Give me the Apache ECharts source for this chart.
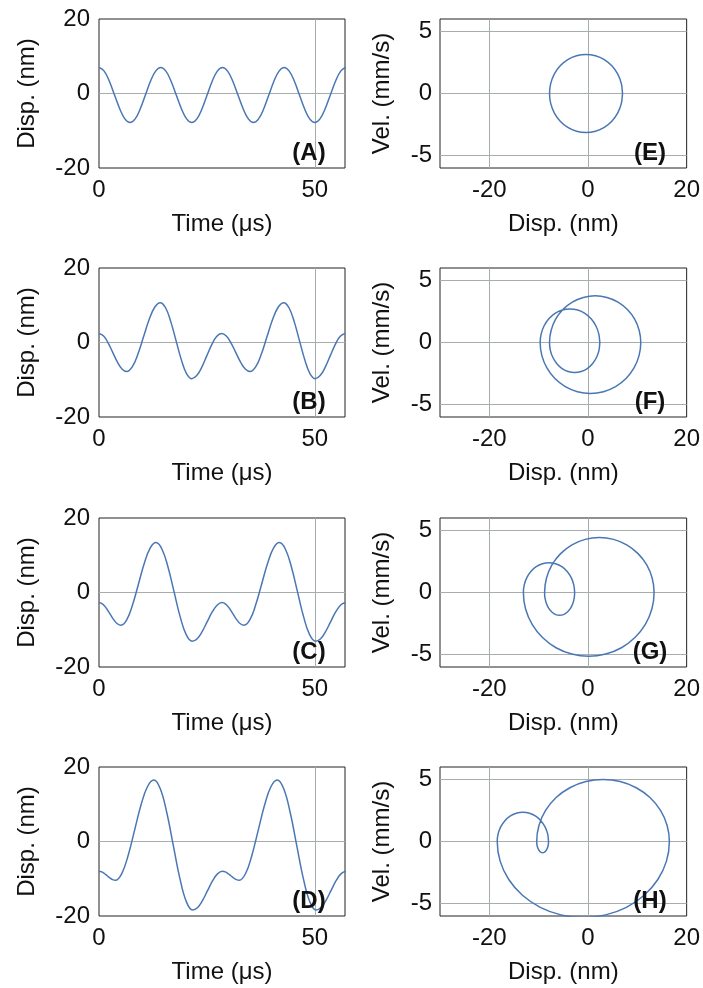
<!DOCTYPE html>
<html><head><meta charset="utf-8">
<script src="https://cdn.jsdelivr.net/npm/echarts@6/dist/echarts.min.js"></script>
<style>html,body{margin:0;padding:0;background:#fff}#c{width:703px;height:988px}</style>
</head><body><div id="c"></div>
<script>
// ---- Data ----
const timeTicks = [0, 50];
const dispTicks = [-20, 0, 20];
const phaseXTicks = [-20, 0, 20];
const phaseYTicks = [-5, 0, 5];
const timeLabels = ['(A)', '(B)', '(C)', '(D)'];
const phaseLabels = ['(E)', '(F)', '(G)', '(H)'];

// time traces (left column): time in µs, displacement in nm
const timeA = [0,1.2,2.4,3.6,4.8,6, 7.2,8.38,9.57,10.75,11.93,13.12, 14.3,15.5,16.7,17.9,19.1,20.3, 21.5,22.68,23.87,25.05,26.23,27.42, 28.6,29.8,31,32.2,33.4,34.6, 35.8,36.98,38.17,39.35,40.53,41.72, 42.9,44.08,45.27,46.45,47.63,48.82, 50,51.2,52.4,53.6,54.8,56, 57.2];
const dispA = [7,6.01,3.3,-0.4,-4.1,-6.81, -7.8,-6.81,-4.1,-0.4,3.3,6.01, 7,6.01,3.3,-0.4,-4.1,-6.81, -7.8,-6.81,-4.1,-0.4,3.3,6.01, 7,6.01,3.3,-0.4,-4.1,-6.81, -7.8,-6.81,-4.1,-0.4,3.3,6.01, 7,6.01,3.3,-0.4,-4.1,-6.81, -7.8,-6.81,-4.1,-0.4,3.3,6.01, 7];

const timeB = [0,1.07,2.13,3.2,4.27,5.33, 6.4,7.7,9,10.3,11.6,12.9, 14.2,15.42,16.63,17.85,19.07,20.28, 21.5,22.65,23.8,24.95,26.1,27.25, 28.4,29.5,30.6,31.7,32.8,33.9, 35,36.3,37.6,38.9,40.2,41.5, 42.8,44.02,45.23,46.45,47.67,48.88, 50.1,51.25,52.4,53.55,54.7,55.85, 57];
const dispB = [2.4,1.72,-0.15,-2.7,-5.25,-7.12, -7.8,-6.56,-3.18,1.45,6.08,9.46, 10.7,9.33,5.6,0.5,-4.6,-8.33, -9.7,-8.89,-6.68,-3.65,-0.63,1.59, 2.4,1.72,-0.15,-2.7,-5.25,-7.12, -7.8,-6.56,-3.18,1.45,6.08,9.46, 10.7,9.33,5.6,0.5,-4.6,-8.33, -9.7,-8.89,-6.68,-3.65,-0.63,1.59, 2.4];

const timeC = [0,0.85,1.7,2.55,3.4,4.25, 5.1,6.45,7.8,9.15,10.5,11.85, 13.2,14.6,16,17.4,18.8,20.2, 21.6,22.75,23.9,25.05,26.2,27.35, 28.5,29.35,30.2,31.05,31.9,32.75, 33.6,34.97,36.33,37.7,39.07,40.43, 41.8,43.2,44.6,46,47.4,48.8, 50.2,51.35,52.5,53.65,54.8,55.95, 57.1];
const dispC = [-2.7,-3.11,-4.23,-5.75,-7.28,-8.39, -8.8,-7.31,-3.25,2.3,7.85,11.91, 13.4,11.62,6.78,0.15,-6.48,-11.32, -13.1,-12.4,-10.5,-7.9,-5.3,-3.4, -2.7,-3.11,-4.23,-5.75,-7.28,-8.39, -8.8,-7.31,-3.25,2.3,7.85,11.91, 13.4,11.62,6.78,0.15,-6.48,-11.32, -13.1,-12.4,-10.5,-7.9,-5.3,-3.4, -2.7];

const timeD = [0,0.63,1.27,1.9,2.53,3.17, 3.8,5.28,6.77,8.25,9.73,11.22, 12.7,14.2,15.7,17.2,18.7,20.2, 21.7,22.85,24,25.15,26.3,27.45, 28.6,29.25,29.9,30.55,31.2,31.85, 32.5,33.97,35.43,36.9,38.37,39.83, 41.3,42.8,44.3,45.8,47.3,48.8, 50.3,51.45,52.6,53.75,54.9,56.05, 57.2];
const dispD = [-8,-8.16,-8.6,-9.2,-9.8,-10.24, -10.4,-8.6,-3.68,3.05,9.78,14.7, 16.5,14.16,7.78,-0.95,-9.68,-16.06, -18.4,-17.7,-15.8,-13.2,-10.6,-8.7, -8,-8.16,-8.6,-9.2,-9.8,-10.24, -10.4,-8.6,-3.68,3.05,9.78,14.7, 16.5,14.16,7.78,-0.95,-9.68,-16.06, -18.4,-17.7,-15.8,-13.2,-10.6,-8.7, -8];

// phase portraits (right column): one period, displacement nm vs velocity mm/s
const phaseDispE = [7,6.75,6.01,4.83,3.3,1.52,-0.4,-2.32,-4.1,-5.63,-6.81,-7.55, -7.8,-7.55,-6.81,-5.63,-4.1,-2.32,-0.4,1.52,3.3,4.83,6.01,6.75, 7];
const phaseVelE = [0,-0.82,-1.58,-2.23,-2.73,-3.04,-3.15,-3.04,-2.73,-2.23,-1.58,-0.82, 0,0.82,1.58,2.23,2.73,3.04,3.15,3.04,2.73,2.23,1.58,0.82, 0];

const phaseDispF = [2.4,2.23,1.72,0.91,-0.15,-1.38,-2.7,-4.02,-5.25,-6.31,-7.12,-7.63,
  -7.8,-7.48,-6.56,-5.09,-3.18,-0.94,1.45,3.84,6.08,7.99,9.46,10.38,
  10.7,10.35,9.33,7.71,5.6,3.14,0.5,-2.14,-4.6,-6.71,-8.33,-9.35,
  -9.7,-9.49,-8.89,-7.93,-6.68,-5.22,-3.65,-2.08,-0.63,0.63,1.59,2.19, 2.4];
const phaseVelF = [0,-0.63,-1.21,-1.71,-2.1,-2.34,-2.42,-2.34,-2.1,-1.71,-1.21,-0.63,
  0,0.97,1.88,2.66,3.26,3.63,3.76,3.63,3.26,2.66,1.88,0.97,
  0,-1.06,-2.05,-2.9,-3.55,-3.96,-4.1,-3.96,-3.55,-2.9,-2.05,-1.06,
  0,0.7,1.35,1.91,2.34,2.61,2.7,2.61,2.34,1.91,1.35,0.7, 0];

const phaseDispG = [-2.7,-2.8,-3.11,-3.59,-4.23,-4.96,-5.75,-6.54,-7.28,-7.91,-8.39,-8.7,
  -8.8,-8.42,-7.31,-5.55,-3.25,-0.57,2.3,5.17,7.85,10.15,11.91,13.02,
  13.4,12.95,11.62,9.52,6.78,3.58,0.15,-3.28,-6.48,-9.22,-11.32,-12.65,
  -13.1,-12.92,-12.4,-11.58,-10.5,-9.25,-7.9,-6.55,-5.3,-4.22,-3.4,-2.88, -2.7];
const phaseVelG = [0,-0.48,-0.92,-1.3,-1.59,-1.78,-1.84,-1.78,-1.59,-1.3,-0.92,-0.48,
  0,1.15,2.22,3.13,3.84,4.28,4.43,4.28,3.84,3.13,2.22,1.15,
  0,-1.33,-2.57,-3.63,-4.45,-4.96,-5.14,-4.96,-4.45,-3.63,-2.57,-1.33,
  0,0.62,1.2,1.7,2.08,2.32,2.4,2.32,2.08,1.7,1.2,0.62, 0];

const phaseDispH = [-8,-8.04,-8.16,-8.35,-8.6,-8.89,-9.2,-9.51,-9.8,-10.05,-10.24,-10.36,
  -10.4,-9.94,-8.6,-6.46,-3.68,-0.43,3.05,6.53,9.78,12.56,14.7,16.04,
  16.5,15.91,14.16,11.39,7.78,3.57,-0.95,-5.47,-9.68,-13.29,-16.06,-17.81,
  -18.4,-18.22,-17.7,-16.88,-15.8,-14.55,-13.2,-11.85,-10.6,-9.52,-8.7,-8.18, -8];
const phaseVelH = [0,-0.23,-0.45,-0.64,-0.78,-0.87,-0.9,-0.87,-0.78,-0.64,-0.45,-0.23,
  0,1.29,2.5,3.54,4.33,4.83,5,4.83,4.33,3.54,2.5,1.29,
  0,-1.58,-3.06,-4.33,-5.3,-5.91,-6.12,-5.91,-5.3,-4.33,-3.06,-1.58,
  0,0.61,1.18,1.66,2.04,2.27,2.35,2.27,2.04,1.66,1.18,0.61, 0];

// ---- Chart ----
const chart = echarts.init(document.getElementById('c'), null, {renderer: 'canvas'});
const FONT = '"Liberation Sans", Arial, Helvetica, sans-serif';
const rowTop = [19, 268, 518, 767];
const rowH = 149;
const times = [timeA, timeB, timeC, timeD];
const disps = [dispA, dispB, dispC, dispD];
const phX = [phaseDispE, phaseDispF, phaseDispG, phaseDispH];
const phV = [phaseVelE, phaseVelF, phaseVelG, phaseVelH];
const lineColor = '#4a77b4';
const gridColor = '#a6adad';
const txt = {fontSize: 24, color: '#111', fontFamily: FONT};

const grid = [], xAxis = [], yAxis = [], series = [], graphic = [];
const fmt = ticks => (v => ticks.includes(v) ? String(v) : '');
const hidden = {axisLine: {show: false}, axisTick: {show: false}, splitLine: {show: false}};
const mlBase = {silent: true, symbol: ['none', 'none'], label: {show: false}, z: 1,
  lineStyle: {color: gridColor, width: 1, type: 'solid'}, emphasis: {disabled: true}};

for (let i = 0; i < 4; i++) {
  const gl = 2 * i, gr = 2 * i + 1;
  grid.push({left: 99, top: rowTop[i], width: 246, height: rowH, show: true, borderColor: '#222', borderWidth: 1});
  grid.push({left: 440, top: rowTop[i], width: 247, height: rowH, show: true, borderColor: '#222', borderWidth: 1});

  xAxis.push(Object.assign({type: 'value', gridIndex: gl, min: 0, max: 57, interval: 50,
    axisLabel: Object.assign({margin: 10, formatter: fmt(timeTicks)}, txt),
    name: 'Time (μs)', nameLocation: 'middle', nameGap: 44, nameTextStyle: txt}, hidden));
  yAxis.push(Object.assign({type: 'value', gridIndex: gl, min: -20, max: 20, interval: 20,
    axisLabel: Object.assign({margin: 9, formatter: fmt(dispTicks)}, txt),
    name: 'Disp. (nm)', nameLocation: 'middle', nameGap: 60, nameTextStyle: txt}, hidden));
  xAxis.push(Object.assign({type: 'value', gridIndex: gr, min: -30, max: 20, interval: 10,
    axisLabel: Object.assign({margin: 10, formatter: fmt(phaseXTicks)}, txt),
    name: 'Disp. (nm)', nameLocation: 'middle', nameGap: 44, nameTextStyle: txt}, hidden));
  yAxis.push(Object.assign({type: 'value', gridIndex: gr, min: -6, max: 6, interval: 1,
    axisLabel: Object.assign({margin: 8, formatter: fmt(phaseYTicks)}, txt),
    name: 'Vel. (mm/s)', nameLocation: 'middle', nameGap: 46, nameTextStyle: txt}, hidden));

  // grid lines (behind curves)
  series.push({type: 'line', xAxisIndex: gl, yAxisIndex: gl, data: [], z: 1, silent: true,
    markLine: Object.assign({data: [{xAxis: 50}, {yAxis: 0}]}, mlBase)});
  series.push({type: 'line', xAxisIndex: gr, yAxisIndex: gr, data: [], z: 1, silent: true,
    markLine: Object.assign({data: phaseXTicks.filter(v => v > -30 && v < 20).map(v => ({xAxis: v}))
      .concat(phaseYTicks.map(v => ({yAxis: v})))}, mlBase)});

  const t = times[i], d = disps[i], px = phX[i], pv = phV[i];
  series.push({type: 'line', xAxisIndex: gl, yAxisIndex: gl, z: 3, smooth: 0.4, showSymbol: false,
    clip: true, lineStyle: {color: lineColor, width: 1.5}, data: t.map((tt, k) => [tt, d[k]])});
  series.push({type: 'line', xAxisIndex: gr, yAxisIndex: gr, z: 3, smooth: 0.3, showSymbol: false,
    clip: true, lineStyle: {color: lineColor, width: 1.5}, data: px.map((x, k) => [x, pv[k]])});

  graphic.push({type: 'text', x: 309, y: rowTop[i] + 134, z: 10,
    style: {text: timeLabels[i], font: 'bold 24px ' + FONT, fill: '#111', textAlign: 'center', textVerticalAlign: 'middle', align: 'center', verticalAlign: 'middle'}});
  graphic.push({type: 'text', x: 650, y: rowTop[i] + 134, z: 10,
    style: {text: phaseLabels[i], font: 'bold 24px ' + FONT, fill: '#111', textAlign: 'center', textVerticalAlign: 'middle', align: 'center', verticalAlign: 'middle'}});
}

chart.setOption({animation: false, backgroundColor: '#fff', grid, xAxis, yAxis, series, graphic});
</script>
</body></html>
